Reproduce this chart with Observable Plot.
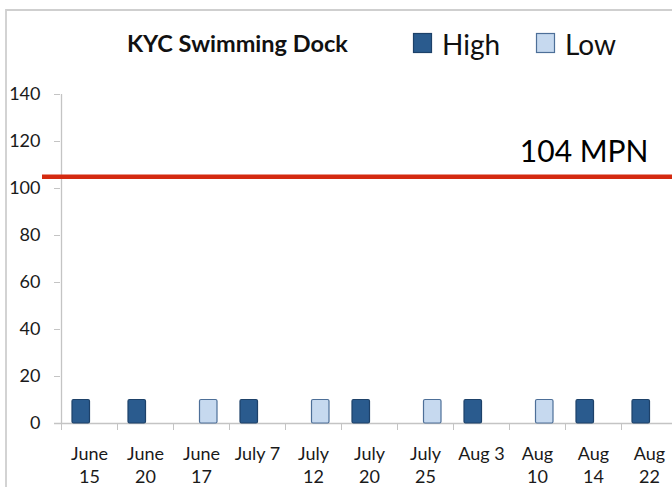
<!DOCTYPE html>
<html>
<head>
<meta charset="utf-8">
<script src="https://cdn.jsdelivr.net/npm/d3@7"></script>
<script src="https://cdn.jsdelivr.net/npm/@observablehq/plot@0.6"></script>
<style>
  html, body { margin: 0; padding: 0; background: #fff; }
  #chart { width: 672px; height: 487px; overflow: hidden; }
  svg { font-family: Lato, "Open Sans", sans-serif; }
</style>
</head>
<body>
<div id="chart"></div>
<script>
// ---- data ----
const categories = ["June 15", "June 20", "June 17", "July 7", "July 12", "July 20", "July 25", "Aug 3", "Aug 10", "Aug 14", "Aug 22"];
const tickLabels = ["June\n15", "June\n20", "June\n17", "July 7", "July\n12", "July\n20", "July\n25", "Aug 3", "Aug\n10", "Aug\n14", "Aug\n22"];
const levels = ["High", "High", "Low", "High", "Low", "High", "Low", "High", "Low", "High", "High"];
const values = [10, 10, 10, 10, 10, 10, 10, 10, 10, 10, 10];
const yTicks = [0, 20, 40, 60, 80, 100, 120, 140];
const seriesNames = ["High", "Low"];
const seriesFill = ["#2a5b8e", "#c6d9ef"];
const seriesStroke = ["#1d4169", "#4d6f98"];
const thresholdValue = [105];
const thresholdLabel = ["104 MPN"];
const title = "KYC Swimming Dock";

const rows = categories.map((c, i) => ({date: c, level: levels[i], value: values[i]}));
const labelOf = new Map(categories.map((c, i) => [c, tickLabels[i]]));
const strokeOf = new Map(seriesNames.map((s, i) => [s, seriesStroke[i]]));

const W = 672, H = 487;
const chart = Plot.plot({
  width: W,
  height: H,
  marginTop: 94,
  marginBottom: 64,
  marginLeft: 60,
  marginRight: 0,
  style: {fontFamily: "Lato, 'Open Sans', sans-serif", background: "#fff", overflow: "hidden"},
  x: {type: "band", domain: categories, range: [60.7, 676.7], padding: 0},
  y: {domain: [yTicks[0], yTicks[yTicks.length - 1]]},
  color: {domain: seriesNames, range: seriesFill},
  marks: [
    // y axis line
    Plot.ruleX([categories[0]], {x: d => d, dx: -28, y1: yTicks[0], y2: yTicks[yTicks.length - 1], stroke: "#c4c4c4", strokeWidth: 1.3}),
    // baseline
    Plot.ruleY([0], {stroke: "#c4c4c4", strokeWidth: 1.3, insetLeft: -6}),
    Plot.axisY({ticks: yTicks, tickSize: 6, tickPadding: 14, fontSize: 18, stroke: "#c4c4c4", fill: "#1a1a1a", label: null, tickFormat: d => String(d)}),
    // category boundary ticks
    Plot.axisX({tickSize: 7, dx: -28, tickFormat: () => "", stroke: "#c4c4c4", label: null}),
    Plot.axisX({tickSize: 0, tickPadding: 20, fontSize: 18, lineHeight: 1.28, fill: "#1a1a1a", label: null, tickFormat: d => labelOf.get(d)}),
    // bars
    Plot.barY(rows.filter(d => d.level === seriesNames[0]), {x: "date", y: "value", fill: "level", stroke: d => strokeOf.get(d.level), strokeWidth: 1.2, insetLeft: 11, insetRight: 27.5, rx: 1.5}),
    Plot.barY(rows.filter(d => d.level === seriesNames[1]), {x: "date", y: "value", fill: "level", stroke: d => strokeOf.get(d.level), strokeWidth: 1.2, insetLeft: 26.5, insetRight: 12, rx: 1.5}),
    // threshold
    Plot.ruleY(thresholdValue, {stroke: "#d42a10", strokeWidth: 4.5, insetLeft: -18}),
    Plot.text(thresholdLabel, {y: thresholdValue[0], frameAnchor: "right", textAnchor: "end", lineAnchor: "bottom", dx: -24, dy: -15, fontSize: 30, fill: "#000", text: d => d})
  ]
});
const svg = d3.select(chart.tagName.toLowerCase() === "svg" ? chart : chart.querySelector("svg"));

// outer chart border
svg.append("path").attr("d", `M6,${H} V10 H${W}`).attr("fill", "none").attr("stroke", "#cfcfcf").attr("stroke-width", 1.8);

// title
svg.append("text").attr("x", 127).attr("y", 52).attr("font-size", 23.5).attr("font-weight", "bold")
  .attr("text-anchor", "start").attr("fill", "#111").attr("font-family", "Lato, sans-serif").text(title);

// legend
const legendX = [413.5, 536.5];
seriesNames.forEach((s, i) => {
  svg.append("rect").attr("x", legendX[i]).attr("y", 33.5).attr("width", 18).attr("height", 19)
    .attr("fill", seriesFill[i]).attr("stroke", seriesStroke[i]).attr("stroke-width", 1.2);
  svg.append("text").attr("x", legendX[i] + 28.5).attr("y", 55).attr("font-size", 28).attr("text-anchor", "start")
    .attr("fill", "#111").attr("font-family", "Lato, sans-serif").text(s);
});

document.getElementById("chart").appendChild(chart);
</script>
</body>
</html>
